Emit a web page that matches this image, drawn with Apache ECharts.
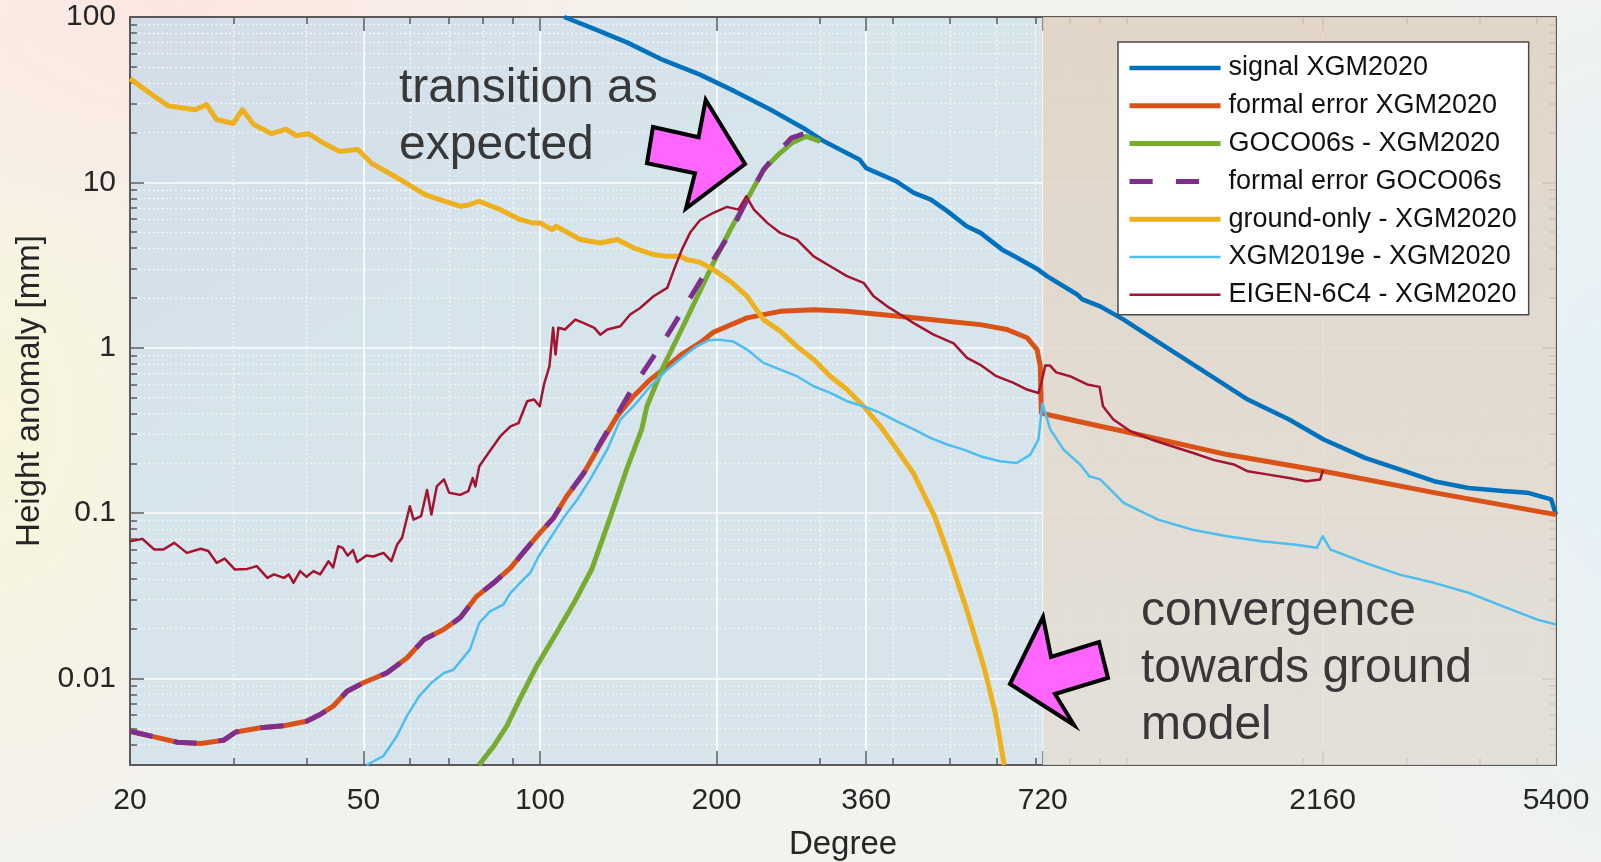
<!DOCTYPE html>
<html><head><meta charset="utf-8">
<script src="https://cdn.jsdelivr.net/npm/echarts@6/dist/echarts.min.js"></script>
<style>
html,body{margin:0;padding:0;width:1601px;height:862px;overflow:hidden;}
body{background:
 radial-gradient(ellipse 520px 300px at 180px 0px, rgba(252,230,224,0.95), rgba(252,230,224,0)),
 radial-gradient(ellipse 260px 420px at 0px 420px, rgba(248,245,218,0.95), rgba(248,245,218,0)),
 radial-gradient(ellipse 260px 700px at 1601px 430px, rgba(228,241,247,1), rgba(228,241,247,0)),
 #f4f2ec;}
#chart{width:1601px;height:862px;}
</style></head><body><div id="chart"></div>
<script>
// ---- tick values ----
const xMajorTicks = [20, 50, 100, 200, 360, 720, 2160, 5400];
const xMinorTicks = [30, 40, 60, 70, 80, 90, 300, 400, 500, 600, 700, 800, 900, 1000, 2000, 3000, 4000, 5000];
const yMajorTicks = [0.01, 0.1, 1, 10, 100];
const yMinorTicks = [0.004, 0.005, 0.006, 0.007, 0.008, 0.009, 0.02, 0.03, 0.04, 0.05, 0.06, 0.07, 0.08, 0.09,
  0.2, 0.3, 0.4, 0.5, 0.6, 0.7, 0.8, 0.9, 2, 3, 4, 5, 6, 7, 8, 9, 20, 30, 40, 50, 60, 70, 80, 90];

// ---- series values [degree, height anomaly in mm] ----
const signalXGM2020 = [[110,100],[122.5,86],[141,70],[162,55],[187,45],[215,35.5],[247,27.6],[284.5,20.8],[305,17.7],
  [351,13.7],[360,12.2],[404,10.2],[434,8.64],[464,7.87],[495,6.7],[534,5.43],[564,4.95],[614,3.92],[642,3.6],[707,2.97],
  [732,2.71],[824,2.1],[841,1.96],[902,1.78],[989,1.48],[1163,1.02],[1368,0.705],[1610,0.486],[1894,0.368],[2169,0.279],
  [2551,0.216],[2922,0.184],[3345,0.156],[3830,0.142],[4386,0.136],[4822,0.133],[5300,0.121],[5400,0.098]];

const formalErrorXGM2020 = [[20,0.0048],[22,0.00444],[24.1,0.00412],[26.4,0.00405],[28.9,0.00424],[30.3,0.00475],[33.4,0.00504],
  [36.6,0.00518],[40,0.00552],[42.2,0.00606],[44.4,0.0068],[46.9,0.00838],[50,0.00942],[54.8,0.0108],[59.3,0.0133],[63.4,0.0172],
  [68.5,0.0198],[73.1,0.0233],[78,0.0314],[83.4,0.0379],[89.1,0.0467],[95.1,0.0617],[100,0.076],[105.5,0.0937],[111,0.126],
  [118.8,0.175],[126.7,0.26],[135.4,0.386],[144.4,0.509],[154.2,0.642],[164.8,0.773],[175,0.92],[187.4,1.07],[197.6,1.24],
  [225.5,1.516],[256.9,1.66],[292.9,1.70],[333.8,1.66],[380.6,1.59],[433.8,1.52],[494.5,1.446],[563.5,1.38],[625.6,1.29],
  [676.8,1.15],[704,0.975],[713,0.773],[716,0.404],[732,0.395],[902,0.335],[989,0.313],[1484,0.226],[2169,0.179],
  [3345,0.133],[5400,0.098]];

const goco06sMinusXGM2020 = [[78.7,0.003],[83.4,0.0039],[85.6,0.0045],[87.9,0.0052],[92.2,0.0074],[98.6,0.0118],[106.8,0.019],
  [114.3,0.0287],[122.5,0.0456],[131.6,0.093],[141,0.19],[149.1,0.321],[152.2,0.443],[162.4,0.773],[173.6,1.25],[185,2.0],
  [197.6,3.26],[211.2,5.18],[225.5,7.87],[240.5,11.9],[253.8,14.5],[268.6,17.3],[284.5,19.0],[300.5,17.7]];

const formalErrorGOCO06s = [[20,0.0048],[22,0.00444],[24.1,0.00412],[26.4,0.00405],[28.9,0.00424],[30.3,0.00475],[33.4,0.00504],
  [36.6,0.00518],[40,0.00552],[42.2,0.00606],[44.4,0.0068],[46.9,0.00838],[50,0.00942],[54.8,0.0108],[59.3,0.0133],[63.4,0.0172],
  [68.5,0.0198],[73.1,0.0233],[78,0.0314],[83.4,0.0379],[89.1,0.0467],[95.1,0.0617],[100,0.076],[105.5,0.0937],[111,0.126],
  [118.8,0.175],[126.7,0.265],[131.8,0.335],[144.4,0.585],[160.5,1.02],[174.5,1.65],[186,2.4],[198.5,3.5],[211.2,4.95],
  [225.5,7.87],[240.5,11.9],[253.8,15.1],[268.6,18.6],[284.5,19.9],[298.6,20.4]];

const groundOnlyMinusXGM2020 = [[20,42.4],[22,33.2],[23.2,29.1],[25.8,27.5],[27,29.5],[28.1,24.0],[30,22.7],[31.1,27.5],
  [32.5,22.4],[34.9,19.7],[36.9,21.0],[38.4,19.2],[40.3,19.7],[42.5,17.5],[45.5,15.4],[48.9,15.8],[51.7,13.0],[56.2,11.0],
  [60,9.6],[63.7,8.44],[67.4,7.87],[73.3,7.17],[75.5,7.3],[78.7,7.69],[85.6,6.84],[92,6.0],[97.1,5.69],[100,5.69],
  [104.9,5.18],[106.6,5.43],[117.2,4.51],[126.7,4.3],[135.4,4.51],[144.4,4.02],[156.2,3.66],[164.8,3.57],[173.6,3.57],
  [178.2,3.41],[187.4,3.29],[197.6,2.97],[211.2,2.52],[225.5,2.05],[240.5,1.48],[256.9,1.26],[274.3,1.02],[292.9,0.849],
  [312.6,0.673],[333.8,0.559],[356.3,0.443],[380.6,0.335],[406.3,0.242],[433.8,0.173],[470.9,0.0957],[498.3,0.0549],
  [534.1,0.0261],[573,0.01134],[597.5,0.0062],[618.8,0.003]];

const xgm2019eMinusXGM2020 = [[50.6,0.003],[54.1,0.0034],[57,0.00448],[59.3,0.00592],[62.2,0.0078],[65.3,0.00942],[68.6,0.0108],
  [71.2,0.0113],[76,0.015],[78.8,0.0217],[82.2,0.0255],[86.6,0.028],[89.1,0.033],[92.5,0.0379],[96.3,0.0436],[99.5,0.0549],
  [109.7,0.0937],[115.8,0.121],[121.8,0.16],[130.2,0.242],[137.1,0.368],[144.4,0.443],[154.2,0.585],[164.8,0.737],
  [175.8,0.888],[185,1.02],[193.8,1.11],[201.3,1.12],[213.8,1.09],[225.5,0.975],[240.5,0.81],[256.9,0.737],[274.3,0.673],
  [292.9,0.585],[312.6,0.533],[333.8,0.475],[356.3,0.443],[380.6,0.404],[406.3,0.359],[433.8,0.321],[463.2,0.285],
  [494.5,0.26],[527.9,0.242],[563.5,0.221],[608.6,0.206],[650.4,0.201],[685.7,0.226],[708,0.279],[719,0.46],[741.5,0.321],
  [781,0.242],[834,0.197],[864,0.167],[902,0.16],[989,0.1154],[1132,0.0914],[1296,0.0794],[1484,0.0725],[1700,0.0676],
  [1946,0.0645],[2112,0.0617],[2160,0.0725],[2229,0.0602],[2551,0.0501],[2922,0.0425],[3345,0.0379],[3830,0.033],
  [4386,0.0273],[5018,0.0227],[5400,0.0212]];

const eigen6c4MinusXGM2020 = [[20,0.0676],[21,0.0699],[22,0.0603],[22.8,0.0603],[23.8,0.0661],[25,0.0575],[26.4,0.0609],
  [27.2,0.059],[28.1,0.0501],[29,0.0531],[30.2,0.0456],[31.7,0.046],[32.9,0.0478],[34.3,0.0406],[35.2,0.0426],[36.6,0.0406],
  [37.3,0.0426],[38,0.0379],[39,0.0446],[40,0.0412],[41.1,0.0446],[42.2,0.0426],[43.6,0.0512],[44.4,0.047],[45.3,0.0631],
  [46.1,0.0617],[47,0.0554],[48,0.0598],[48.8,0.0506],[50.6,0.0554],[52,0.0547],[54.1,0.0575],[55.8,0.0512],[57.1,0.0646],
  [58.2,0.071],[60,0.11],[60.9,0.0914],[62.7,0.0958],[64.2,0.138],[65.3,0.098],[66.7,0.145],[68.6,0.16],[70,0.133],
  [73.1,0.129],[75.5,0.136],[76.8,0.163],[77.6,0.145],[78.8,0.192],[82.1,0.237],[85.6,0.292],[89.1,0.335],[91.9,0.35],
  [95.1,0.475],[97.7,0.487],[99.9,0.443],[101.6,0.6],[103.8,0.773],[105.3,1.32],[106.3,0.91],[107.5,1.32],[110.3,1.29],
  [114.9,1.48],[118.8,1.41],[123.8,1.32],[126.7,1.2],[130.3,1.29],[137.1,1.35],[142.5,1.59],[148.2,1.74],[156.2,2.05],
  [164.8,2.3],[170.1,3.11],[174.6,3.92],[180.5,5.0],[187.4,5.9],[197.6,6.55],[208.4,7.11],[218,6.84],[224.8,8.24],
  [231.7,6.84],[244.1,5.69],[256.9,4.95],[274.3,4.51],[292.9,3.57],[312.6,3.11],[333.8,2.71],[356.3,2.47],[370.6,2.05],
  [390.8,1.78],[411.6,1.59],[433.8,1.41],[469,1.2],[507.5,1.063],[534.7,0.869],[563.5,0.789],[600,0.673],[642,0.614],
  [676.8,0.559],[708,0.533],[716,0.614],[727,0.78],[741,0.78],[759,0.71],[801,0.673],[857,0.6],[900,0.58],[912,0.443],
  [950,0.368],[1016,0.313],[1102,0.279],[1196,0.254],[1296,0.232],[1407,0.21],[1524,0.197],[1610,0.179],[1747,0.171],
  [1894,0.163],[2027,0.156],[2140,0.16],[2163,0.182]];

// ---- chart ----
const FONT = "'Liberation Sans', Arial, Helvetica, sans-serif";
const AXIS_COLOR = '#5a5a5a';
const chart = echarts.init(document.getElementById('chart'), null, {renderer: 'canvas'});

const seriesDefs = [
  {name: 'signal XGM2020', data: signalXGM2020, color: '#0072BD', width: 4.5},
  {name: 'formal error XGM2020', data: formalErrorXGM2020, color: '#D95319', width: 5},
  {name: 'GOCO06s - XGM2020', data: goco06sMinusXGM2020, color: '#77AC30', width: 5},
  {name: 'formal error GOCO06s', data: formalErrorGOCO06s, color: '#7E2F8E', width: 5, dash: [23, 22], legendDash: [23.2, 23.2]},
  {name: 'ground-only - XGM2020', data: groundOnlyMinusXGM2020, color: '#EDB120', width: 5},
  {name: 'XGM2019e - XGM2020', data: xgm2019eMinusXGM2020, color: '#4DBEEE', width: 2.5},
  {name: 'EIGEN-6C4 - XGM2020', data: eigen6c4MinusXGM2020, color: '#A2142F', width: 2.5}
];

const series = seriesDefs.map((d, i) => {
  const s = {
    name: d.name, type: 'line', data: d.data, xAxisIndex: 0, yAxisIndex: 0,
    symbol: 'none', showSymbol: false, smooth: false, clip: true, silent: true,
    color: d.color,
    lineStyle: {color: d.color, width: d.width, type: d.dash ? d.dash : 'solid', cap: 'butt', join: 'round'},
    z: 3 + i
  };
  if (i === 0) {
    s.markArea = {
      silent: true,
      itemStyle: {color: {type: 'linear', x: 0, y: 0, x2: 0, y2: 1, colorStops: [
        {offset: 0, color: 'rgba(227,211,194,0.85)'}, {offset: 1, color: 'rgba(229,223,214,0.85)'}]}},
      data: [[{xAxis: 720}, {xAxis: 5400}]]
    };
  }
  return s;
});

function xAxisCfg(opts) {
  return Object.assign({
    type: 'log', logBase: 10, min: 20, max: 5400, gridIndex: 0,
    axisLine: {show: false},
    axisLabel: {show: false},
    axisTick: {show: false},
    splitLine: {show: false},
    minorTick: {show: false}, minorSplitLine: {show: false}
  }, opts);
}
function yAxisCfg(opts) {
  return Object.assign({
    type: 'log', logBase: 10, min: 0.003, max: 100, gridIndex: 0,
    axisLine: {show: false},
    axisLabel: {show: false},
    axisTick: {show: false},
    splitLine: {show: false},
    minorTick: {show: false}, minorSplitLine: {show: false}
  }, opts);
}
const numFmt = v => String(+(+v).toPrecision(6));
const MINOR_GRID = {color: 'rgba(246,246,246,0.95)', width: 1.4, type: [2, 2.5]};
const MAJOR_GRID = {color: 'rgba(255,255,255,0.95)', width: 1.6, type: 'solid'};

const option = {
  backgroundColor: 'transparent',
  animation: false,
  grid: {
    left: 130, right: 45, top: 17, bottom: 97, containLabel: false, outerBoundsMode: 'none',
    show: true, borderWidth: 0,
    backgroundColor: {type: 'linear', x: 0, y: 0, x2: 0.3, y2: 1, colorStops: [
      {offset: 0, color: '#d2dce7'}, {offset: 0.45, color: '#d6e4ec'}, {offset: 1, color: '#d7e4eb'}]}
  },
  xAxis: [
    xAxisCfg({
      position: 'bottom',
      name: 'Degree', nameLocation: 'middle', nameGap: 63,
      nameTextStyle: {fontSize: 33, fontFamily: FONT, color: '#262626'},
      axisLine: {show: true, lineStyle: {color: AXIS_COLOR, width: 2}},
      axisTick: {show: true, inside: true, length: 14, customValues: xMajorTicks, lineStyle: {color: AXIS_COLOR, width: 1.5}},
      axisLabel: {show: true, customValues: xMajorTicks, margin: 21, fontSize: 30, fontFamily: FONT, color: '#262626', formatter: numFmt},
      splitLine: {show: true, lineStyle: MAJOR_GRID}
    }),
    xAxisCfg({
      position: 'bottom',
      axisTick: {show: true, inside: true, length: 7, customValues: xMinorTicks, lineStyle: {color: AXIS_COLOR, width: 1.5}},
      splitLine: {show: true, lineStyle: MINOR_GRID}
    }),
    xAxisCfg({
      position: 'top',
      axisLine: {show: true, lineStyle: {color: AXIS_COLOR, width: 2}},
      axisTick: {show: true, inside: true, length: 14, customValues: xMajorTicks, lineStyle: {color: AXIS_COLOR, width: 1.5}}
    }),
    xAxisCfg({
      position: 'top',
      axisTick: {show: true, inside: true, length: 7, customValues: xMinorTicks, lineStyle: {color: AXIS_COLOR, width: 1.5}}
    })
  ],
  yAxis: [
    yAxisCfg({
      position: 'left',
      name: 'Height anomaly [mm]', nameLocation: 'middle', nameGap: 82,
      nameTextStyle: {fontSize: 33, fontFamily: FONT, color: '#262626'},
      axisLine: {show: true, lineStyle: {color: AXIS_COLOR, width: 2}},
      axisTick: {show: true, inside: true, length: 14, customValues: yMajorTicks, lineStyle: {color: AXIS_COLOR, width: 1.5}},
      axisLabel: {show: true, customValues: yMajorTicks, margin: 14, fontSize: 30, fontFamily: FONT, color: '#262626', formatter: numFmt},
      splitLine: {show: true, lineStyle: MAJOR_GRID}
    }),
    yAxisCfg({
      position: 'left',
      axisTick: {show: true, inside: true, length: 7, customValues: yMinorTicks, lineStyle: {color: AXIS_COLOR, width: 1.5}},
      splitLine: {show: true, lineStyle: MINOR_GRID}
    }),
    yAxisCfg({
      position: 'right',
      axisLine: {show: true, lineStyle: {color: AXIS_COLOR, width: 2}},
      axisTick: {show: true, inside: true, length: 14, customValues: yMajorTicks, lineStyle: {color: AXIS_COLOR, width: 1.5}}
    }),
    yAxisCfg({
      position: 'right',
      axisTick: {show: true, inside: true, length: 7, customValues: yMinorTicks, lineStyle: {color: AXIS_COLOR, width: 1.5}}
    })
  ],
  legend: {
    orient: 'vertical', left: 1118, top: 42,
    data: seriesDefs.map(d => ({name: d.name,
      lineStyle: {width: d.width, type: d.legendDash ? d.legendDash : 'solid', cap: 'butt'}})),
    selectedMode: false,
    backgroundColor: '#ffffff', borderColor: '#4a4a4a', borderWidth: 1.5, borderRadius: 0,
    padding: [11, 12, 5, 9],
    itemWidth: 91, itemHeight: 14, itemGap: 7.8,
    itemStyle: {color: 'rgba(0,0,0,0)', opacity: 0, borderWidth: 0},
    textStyle: {fontSize: 27, fontFamily: FONT, color: '#111111', lineHeight: 30, padding: [0, 0, 0, 3]}
  },
  graphic: [
    {type: 'text', left: 399, top: 60, z: 50,
      style: {text: 'transition as\nexpected', font: '48px ' + FONT, fill: '#383838', lineHeight: 57}},
    {type: 'text', left: 1141, top: 583, z: 50,
      style: {text: 'convergence\ntowards ground\nmodel', font: '48px ' + FONT, fill: '#383838', lineHeight: 57}},
    {type: 'polygon', z: 60,
      shape: {points: [[653, 127], [698.6, 137.3], [705.7, 100], [745, 164], [686, 208.5], [695, 173.3], [647, 163.3]]},
      style: {fill: '#ff66ff', stroke: '#000000', lineWidth: 4, lineJoin: 'miter'}},
    {type: 'polygon', z: 60,
      shape: {points: [[1010, 684], [1043, 617], [1051, 657], [1099, 642], [1108, 678], [1055, 694], [1074, 725]]},
      style: {fill: '#ff66ff', stroke: '#000000', lineWidth: 4, lineJoin: 'miter'}}
  ],
  series: series
};
chart.setOption(option);
</script></body></html>
